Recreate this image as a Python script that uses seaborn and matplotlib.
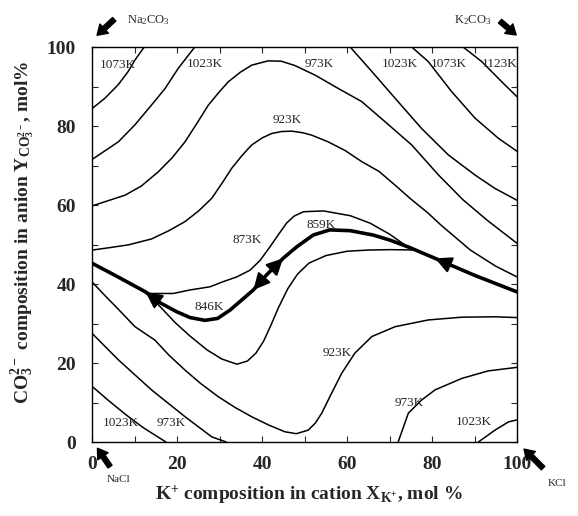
import numpy as np
import pandas as pd
import seaborn as sns
import matplotlib.pyplot as plt

# isotherms (x = K+ mol%, y = CO3 2- mol%)
t1073_left_x = [0, 2.9, 6.1, 8.4, 10, 12.2]
t1073_left_y = [84.5, 87, 90.5, 93.8, 96.7, 100]
t1023_left_x = [0, 6.1, 10, 13.9, 17.1, 20.2, 24.1]
t1023_left_y = [71.6, 76, 80.3, 85.3, 89.5, 94.6, 100]
t973_top_x = [0, 4, 7.7, 11.5, 15.5, 18.8, 21.8, 24.5, 27.3, 30, 32, 34.8, 37.5, 41.4, 44.5,
              47.7, 52.4, 57.9, 63.4, 68.9, 75.2, 81.5, 87.3, 92.9, 100]
t973_top_y = [59.8, 61.2, 62.5, 64.8, 68.4, 72, 76, 80.5, 85.3, 88.8, 91.2, 93.6, 95.4, 96.5, 96.4,
              95.3, 92.9, 89.5, 86.2, 81.1, 75.2, 67.6, 61.3, 56.2, 50.3]
t923_top_x = [0, 4, 8.4, 13.9, 18, 21.8, 25, 28.1, 30.5, 32.8, 35.2, 37.5, 40, 42.2, 44.5, 46.9,
              49.5, 51.6, 55.5, 59.5, 63.4, 67.5, 71.3, 75, 79, 82, 85.5, 89, 95, 100]
t923_top_y = [48.6, 49.2, 49.9, 51.4, 53.5, 55.8, 58.5, 61.7, 65.5, 69.3, 72.5, 75.2, 77, 78.1, 78.6, 78.7,
              78.3, 77.7, 76, 73.8, 71, 68.5, 65, 61.5, 58, 55, 51.8, 48.6, 44.5, 41.8]
t1023_right_x = [60.7, 65.8, 71.3, 77.5, 83.8, 90.1, 94.8, 100]
t1023_right_y = [100, 93.8, 87, 79.4, 72.7, 67.6, 64.2, 61.2]
t1073_right_x = [75.2, 79.1, 84.6, 90.1, 95.6, 100]
t1073_right_y = [100, 96.3, 88.7, 82, 76.9, 73.6]
t1123_x = [87.3, 91.7, 96.4, 100]
t1123_y = [100, 96.3, 91.2, 87.4]
t873_up_x = [12.8, 19, 23, 27.7, 30.8, 34, 37.1, 39.5, 41.8, 43.8, 45.7, 47.5, 49.7, 54.4, 60.7,
             65.4, 70, 74.5]
t873_up_y = [37.6, 37.6, 38.5, 39.3, 40.6, 41.8, 43.5, 46, 49.4, 52.5, 55.4, 57.2, 58.3, 58.5, 57.3,
             55.4, 52.6, 49.2]
t873_low_x = [12.8, 16, 19.5, 23, 27, 30.5, 34, 36.5, 38.5, 40.3, 42, 43.8, 46, 48.3, 51, 55, 60,
              65, 70, 76.5]
t873_low_y = [37.6, 34.2, 30.2, 26.8, 23.3, 21, 19.7, 20.5, 22.5, 25.5, 29.5, 34, 38.8, 42.5, 45.3,
              47.2, 48.3, 48.6, 48.7, 48.6]
t923_low_x = [0, 3, 6.1, 10, 14.7, 18, 21.8, 25.5, 29.6, 33.5, 37.5, 41.5, 45.3, 48, 50.8, 52.5,
              54, 56.3, 58.7, 61.8, 65.8, 71.3, 79.1, 87, 94.8, 100]
t923_low_y = [40.4, 37, 33.6, 29.2, 25.8, 22, 18.2, 14.8, 11.5, 8.8, 6.4, 4.3, 2.6, 2.1, 3, 4.8,
              7.3, 12.3, 17.4, 22.5, 26.7, 29.2, 30.9, 31.6, 31.7, 31.5]
t973_low_x = [0, 6.1, 13.9, 21.8, 28.1, 31.5]
t973_low_y = [27.4, 20.8, 13.2, 6.4, 1.3, 0]
t1023_low_x = [0, 4, 8, 12, 17.3]
t1023_low_y = [14, 10.3, 6.8, 3.6, 0]
t973_br_x = [72, 74.4, 77.5, 80.7, 87, 93.2, 100]
t973_br_y = [0, 7.3, 10.6, 13.2, 16.1, 18, 18.9]
t1023_br_x = [90.9, 94.8, 98, 100]
t1023_br_y = [0, 3, 5.1, 5.6]

# eutectic valley (thick line)
valley_x = [0, 6, 12.5, 16, 19.8, 23, 26.5, 29.5, 32.4, 35, 37.9, 41, 44.9, 48.1, 52, 55.9,
            60.7, 66.1, 70.1, 74.8, 80.7, 85, 90, 95, 100]
valley_y = [45.2, 41.8, 38, 35.2, 33, 31.5, 30.8, 31.3, 33.4, 35.8, 38.5, 42.3, 46.5, 49.4,
            52.4, 53.7, 53.5, 52.4, 51.1, 49.2, 46.5, 44.5, 42.2, 40.1, 38]
arrow_idx = [(3, 2), (11, 12), (11, 10), (21, 20)]  # (tail, tip) on valley

iso_labels = ["1073K", "1023K", "973K", "1023K", "1073K", "1123K", "923K", "873K",
              "859K", "846K", "923K", "973K", "1023K", "1023K", "973K"]
label_pos = [(5.9, 95.4), (26.4, 95.7), (53.4, 95.7), (72.4, 95.7), (83.9, 95.7), (95.9, 95.7),
             (45.9, 81.5), (36.5, 51.1), (53.8, 54.9), (27.4, 34.3), (57.6, 22.6), (74.6, 9.8),
             (89.8, 5.1), (6.6, 4.7), (18.5, 4.9)]

curves = {
    "1073L": (t1073_left_x, t1073_left_y), "1023L": (t1023_left_x, t1023_left_y),
    "973T": (t973_top_x, t973_top_y), "923T": (t923_top_x, t923_top_y),
    "1023R": (t1023_right_x, t1023_right_y), "1073R": (t1073_right_x, t1073_right_y),
    "1123": (t1123_x, t1123_y), "873U": (t873_up_x, t873_up_y), "873D": (t873_low_x, t873_low_y),
    "923D": (t923_low_x, t923_low_y), "973D": (t973_low_x, t973_low_y),
    "1023D": (t1023_low_x, t1023_low_y), "973BR": (t973_br_x, t973_br_y),
    "1023BR": (t1023_br_x, t1023_br_y),
}
df = pd.concat([pd.DataFrame({"x": cx, "y": cy, "curve": name}) for name, (cx, cy) in curves.items()],
               ignore_index=True)
valley = pd.DataFrame({"x": valley_x, "y": valley_y})

sns.set_style("ticks")
plt.rcParams["font.family"] = ["Liberation Serif", "DejaVu Serif"]
plt.rcParams["mathtext.fontset"] = "custom"
plt.rcParams["mathtext.default"] = "regular"

fig = plt.figure(figsize=(5.78, 5.16), dpi=100)
ax = fig.add_axes([0.160, 0.1434, 0.7345, 0.7655])

sns.lineplot(data=df, x="x", y="y", units="curve", estimator=None, sort=False,
             color="black", linewidth=1.1, ax=ax)
sns.lineplot(data=valley, x="x", y="y", estimator=None, sort=False,
             color="black", linewidth=2.6, ax=ax)

for tail, tip in arrow_idx:
    ax.annotate("", xy=(valley_x[tip], valley_y[tip]), xytext=(valley_x[tail], valley_y[tail]),
                arrowprops=dict(arrowstyle="-|>", color="black", lw=1.5, mutation_scale=25,
                                shrinkA=0, shrinkB=0))

for txt, (lx, ly) in zip(iso_labels, label_pos):
    ax.text(lx, ly, txt, fontsize=9.5, ha="center", va="center")

ax.set_xlim(0, 100)
ax.set_ylim(0, 100)
ax.set_xticks(range(0, 101, 20))
ax.set_yticks(range(0, 101, 20))
ax.set_xticks(range(10, 100, 20), minor=True)
ax.set_yticks(range(10, 100, 20), minor=True)
ax.tick_params(which="both", direction="in", top=True, right=True, length=4, width=0.8)
ax.tick_params(axis="x", pad=10)
ax.tick_params(axis="y", pad=12)
for lab in ax.get_xticklabels() + ax.get_yticklabels():
    lab.set_fontweight("bold")
    lab.set_fontsize(14)
for sp in ax.spines.values():
    sp.set_linewidth(1.0)
    sp.set_color("black")

ax.set_xlabel(r"K$^{+}$ composition in cation X$_{K^{+}}$, mol %", fontsize=14, fontweight="bold")
ax.set_ylabel(r"CO$_3^{2-}$ composition in anion Y$_{CO_3^{2-}}$, mol%", fontsize=14,
              fontweight="bold")
ax.xaxis.set_label_coords(0.51, -0.105)
ax.yaxis.set_label_coords(-0.13, 0.53)

# corner compounds
arr = dict(arrowstyle="simple,head_width=0.9,head_length=0.7,tail_width=0.35", color="black")
ax.annotate("", xy=(0.006, 1.025), xytext=(0.056, 1.075), xycoords="axes fraction", arrowprops=arr)
ax.text(0.131, 1.068, r"Na$_2$CO$_3$", transform=ax.transAxes, fontsize=9, ha="center", va="center")
ax.annotate("", xy=(1.003, 1.026), xytext=(0.955, 1.07), xycoords="axes fraction", arrowprops=arr)
ax.text(0.896, 1.068, r"K$_2$CO$_3$", transform=ax.transAxes, fontsize=9, ha="center", va="center")
ax.annotate("", xy=(0.008, -0.01), xytext=(0.045, -0.068), xycoords="axes fraction",
            arrowprops=arr, annotation_clip=False)
ax.text(0.062, -0.094, "NaCl", transform=ax.transAxes, fontsize=8, ha="center", va="center")
ax.annotate("", xy=(1.012, -0.013), xytext=(1.066, -0.071), xycoords="axes fraction",
            arrowprops=arr, annotation_clip=False)
ax.text(1.095, -0.106, "KCl", transform=ax.transAxes, fontsize=8, ha="center", va="center")

fig.savefig("out.png", dpi=100)
